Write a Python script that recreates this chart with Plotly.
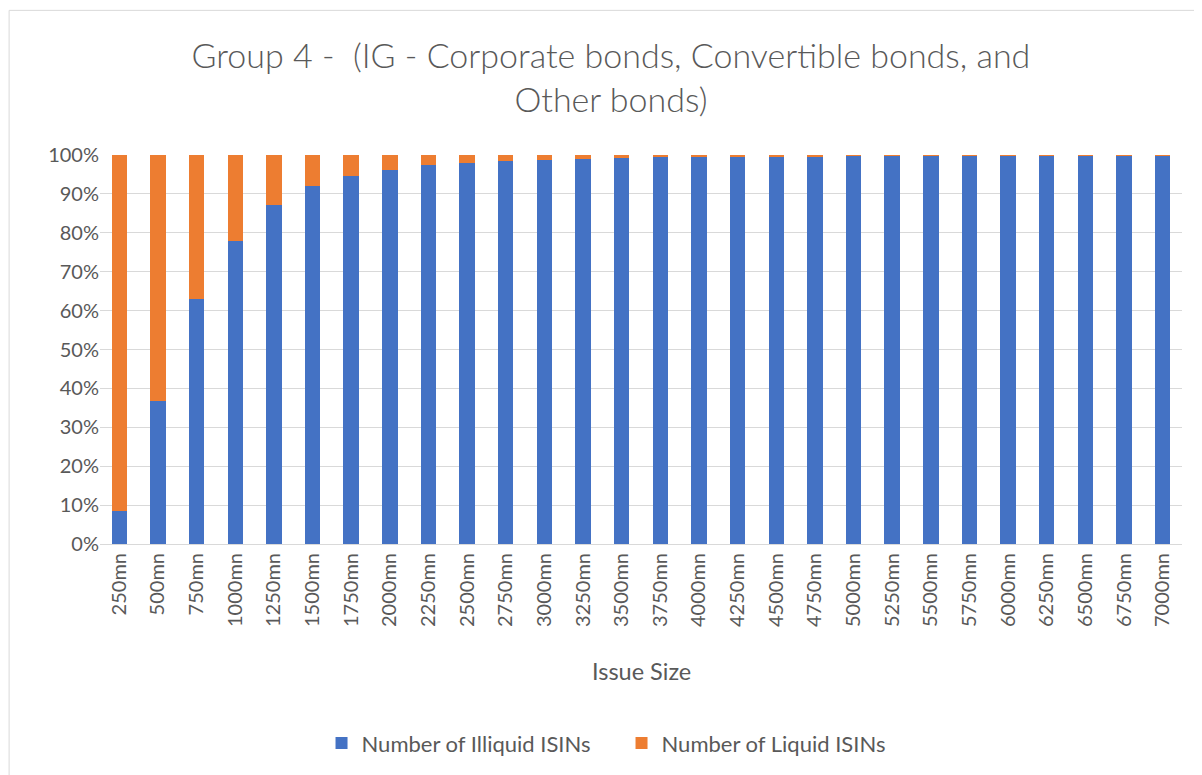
import plotly.graph_objects as go

# issue size buckets
issue_sizes = [f"{v}mn" for v in range(250, 7001, 250)]

# share of illiquid ISINs (%) per bucket
illiquid_pct = [
    8.4, 36.7, 63.0, 78.0, 87.1, 92.1, 94.5, 96.2, 97.4, 97.9,
    98.5, 98.8, 99.1, 99.3, 99.4, 99.5, 99.6, 99.7, 99.7, 99.75,
    99.8, 99.85, 99.85, 99.9, 99.9, 99.95, 99.95, 99.97,
]
liquid_pct = [round(100 - v, 2) for v in illiquid_pct]

BLUE = "#4472C4"
ORANGE = "#ED7D31"
TEXT = "#595959"
GRID = "#D9D9D9"
FONT = "Lato, 'Open Sans', sans-serif"

fig = go.Figure()
fig.add_trace(go.Bar(x=issue_sizes, y=illiquid_pct, name="Number of Illiquid ISINs",
                     marker=dict(color=BLUE, line=dict(width=0))))
fig.add_trace(go.Bar(x=issue_sizes, y=liquid_pct, name="Number of Liquid ISINs",
                     marker=dict(color=ORANGE, line=dict(width=0))))

# page body has an 8px margin, so the figure is a bit smaller than the window
fig.update_layout(
    barmode="stack",
    bargap=0.6,
    width=1194,
    height=767,
    margin=dict(l=92, r=20, t=147, b=230),
    paper_bgcolor="white",
    plot_bgcolor="white",
    font=dict(family=FONT, color=TEXT, size=19),
    title=dict(
        text="Group 4 -  (IG - Corporate bonds, Convertible bonds, and<br>Other bonds)",
        x=0.505, xanchor="center", y=0.922, yanchor="middle",
        font=dict(family=FONT, size=34, color=TEXT, weight=300),
    ),
    xaxis=dict(tickangle=-90, tickfont=dict(size=20, color=TEXT), showline=True,
               linecolor=GRID, ticks=""),
    yaxis=dict(range=[0, 100], dtick=10, ticksuffix="%", gridcolor=GRID,
               tickfont=dict(size=20, color=TEXT), zeroline=False),
    legend=dict(orientation="h", x=0.482, xanchor="center", y=-0.508, yanchor="middle",
                font=dict(size=22, color=TEXT), traceorder="normal", entrywidth=255),
    showlegend=True,
)

fig.add_annotation(text="Issue Size", xref="paper", yref="paper", x=0.5, y=-0.3256,
                   showarrow=False, font=dict(size=23.5, color=TEXT), yanchor="middle")

# chart border
fig.add_shape(type="rect", xref="paper", yref="paper", x0=-0.084, x1=1.0148,
              y0=-0.6, y1=1.3718, line=dict(color="#D9D9D9", width=1))

fig.write_html("out.html")
